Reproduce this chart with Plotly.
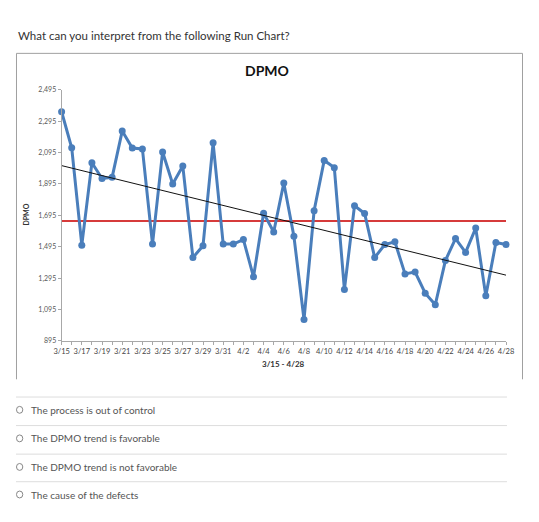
import plotly.graph_objects as go

W, H = 539, 522
OFF = 8  # page body margin pushes the figure 8px right/down

# day labels 3/15 .. 4/28
days = ["3/15", "3/16", "3/17", "3/18", "3/19", "3/20", "3/21", "3/22", "3/23",
        "3/24", "3/25", "3/26", "3/27", "3/28", "3/29", "3/30", "3/31", "4/1",
        "4/2", "4/3", "4/4", "4/5", "4/6", "4/7", "4/8", "4/9", "4/10", "4/11",
        "4/12", "4/13", "4/14", "4/15", "4/16", "4/17", "4/18", "4/19", "4/20",
        "4/21", "4/22", "4/23", "4/24", "4/25", "4/26", "4/27", "4/28"]

# DPMO values
dpmo = [2355, 2125, 1505, 2030, 1930, 1937, 2232, 2124, 2118, 1512,
        2099, 1895, 2009, 1426, 1501, 2157, 1512, 1512, 1541, 1303,
        1709, 1589, 1901, 1562, 1031, 1724, 2045, 1999, 1222, 1756,
        1707, 1426, 1509, 1526, 1322, 1334, 1199, 1126, 1407, 1547,
        1459, 1614, 1182, 1522, 1509]

center_line = [1659, 1659]
trend_line = [2012, 1314]

y_ticks = [895, 1095, 1295, 1495, 1695, 1895, 2095, 2295, 2495]

options = ["The process is out of control",
           "The DPMO trend is favorable",
           "The DPMO trend is not favorable",
           "The cause of the defects"]


# screen pixel -> paper fraction
def px(x):
    return max(x - OFF, 0) / W


def py(y):
    return 1 - (y - OFF) / H


idx = list(range(len(days)))
ends = [0, len(days) - 1]

fig = go.Figure()
fig.add_trace(go.Scatter(x=ends, y=center_line, mode="lines",
                         line=dict(color="#D63B3B", width=2), cliponaxis=False))
fig.add_trace(go.Scatter(x=idx, y=dpmo, mode="lines+markers",
                         line=dict(color="#4A7EBB", width=3),
                         marker=dict(color="#4A7EBB", size=7), cliponaxis=False))
fig.add_trace(go.Scatter(x=ends, y=trend_line, mode="lines",
                         line=dict(color="#111111", width=1), cliponaxis=False))

tick_text = [d if i % 2 == 0 else "" for i, d in enumerate(days)]

fig.update_layout(
    width=W, height=H,
    margin=dict(l=0, r=0, t=0, b=0),
    paper_bgcolor="white", plot_bgcolor="white",
    showlegend=False,
    font=dict(family="Lato", color="#555555"),
    xaxis=dict(domain=[px(55), px(513)], range=[0, 44],
               tickvals=idx, ticktext=tick_text, tickangle=0,
               showgrid=False, zeroline=False,
               showline=True, linecolor="#A8A8A8", linewidth=1,
               ticks="outside", ticklen=3, tickcolor="#A8A8A8",
               tickfont=dict(size=7.5, color="#444444")),
    yaxis=dict(domain=[py(341), py(86)], range=[895, 2495],
               tickvals=y_ticks, tickformat=",",
               showgrid=False, zeroline=False,
               showline=True, linecolor="#A8A8A8", linewidth=1,
               ticks="outside", ticklen=3, tickcolor="#A8A8A8",
               tickfont=dict(size=7, color="#595959")),
)

shapes = []
# chart frame (no bottom edge visible in the screenshot)
for x0, y0, x1, y1 in [(8.5, 49, 8.5, 380), (8.5, 49, 530, 49), (530, 49, 530, 380)]:
    shapes.append(dict(type="line", xref="paper", yref="paper",
                       x0=px(x0), y0=py(y0), x1=px(x1), y1=py(y1),
                       line=dict(color="#A0A0A0", width=1)))

annotations = [
    dict(text="What can you interpret from the following Run Chart?",
         x=px(8), y=py(31), xanchor="left", yanchor="middle",
         font=dict(size=11.5, color="#333333")),
    dict(text="<b>DPMO</b>", x=px(267), y=py(66), xanchor="center", yanchor="middle",
         font=dict(size=14, color="#111111")),
    dict(text="<b>DPMO</b>", x=px(18), y=py(213), xanchor="center", yanchor="middle",
         textangle=-90, font=dict(size=7, color="#333333")),
    dict(text="<b>3/15 - 4/28</b>", x=px(284), y=py(364), xanchor="center", yanchor="middle",
         font=dict(size=8, color="#333333")),
]

sep_y = [398, 427, 456, 484]
for i, opt in enumerate(options):
    yy = sep_y[i]
    shapes.append(dict(type="line", xref="paper", yref="paper",
                       x0=px(8), y0=py(yy), x1=px(514), y1=py(yy),
                       line=dict(color="#DDDDDD", width=1)))
    cy = yy + 13
    shapes.append(dict(type="circle", xref="paper", yref="paper",
                       x0=px(8.5), y0=py(cy - 3.5), x1=px(15), y1=py(cy + 3.5),
                       line=dict(color="#888888", width=1)))
    annotations.append(dict(text=opt, x=px(21), y=py(cy), xanchor="left", yanchor="middle",
                            font=dict(size=10, color="#555555")))

for a in annotations:
    a.update(xref="paper", yref="paper", showarrow=False)

fig.update_layout(shapes=shapes, annotations=annotations)

fig.write_html("out.html")
